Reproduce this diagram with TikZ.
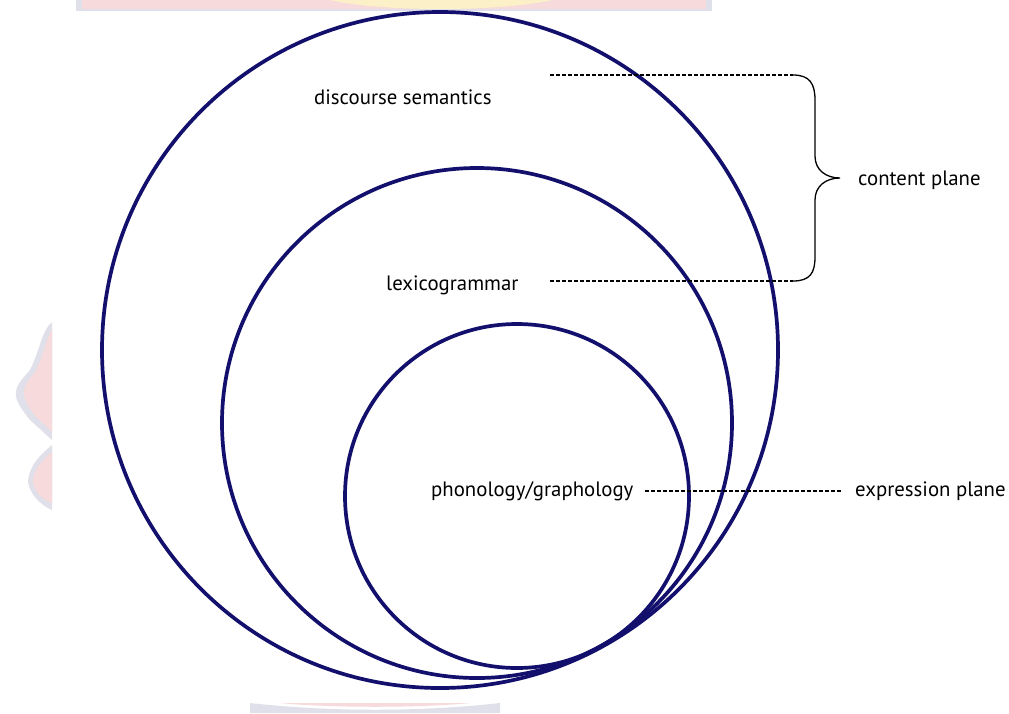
\documentclass[tikz,border=0pt]{standalone}
\usepackage{fontspec}
\setmainfont{PT Sans}
\definecolor{navy}{RGB}{18,16,108}
\definecolor{wmpink}{RGB}{246,218,220}
\definecolor{wmgray}{RGB}{224,224,234}
\definecolor{wmyellow}{RGB}{252,240,200}
\begin{document}
\begin{tikzpicture}[x=1pt,y=-1pt,
  ring/.style={draw=navy,line width=3.7pt},
  lbl/.style={font=\fontsize{20.8}{24}\selectfont,inner sep=0pt,anchor=west,text=black},
  dashln/.style={draw=black,line width=1.2pt,dash pattern=on 4pt off 2pt},
  bracep/.style={draw=black,line width=1.3pt}]
\useasboundingbox (0,0) rectangle (1009,713);
\fill[white] (0,0) rectangle (1009,713);
% faint watermark remnants
\fill[wmgray] (76,0) rectangle (712,11);
\fill[wmpink] (82,0) rectangle (706,9);
\fill[wmyellow] (330,0) .. controls (380,12) and (500,12) .. (552,0) -- cycle;
\fill[wmgray] (52,322) .. controls (42,330) and (40,350) .. (30,370) .. controls (12,390) and (10,395) .. (30,420) -- (52,440) -- cycle;
\fill[wmpink] (52,330) .. controls (46,338) and (44,355) .. (35,372) .. controls (20,390) and (20,395) .. (35,416) -- (52,432) -- cycle;
\fill[wmgray] (52,445) .. controls (40,455) and (30,465) .. (28,480) .. controls (28,492) and (40,505) .. (52,510) -- cycle;
\fill[wmpink] (52,452) .. controls (42,460) and (34,470) .. (33,480) .. controls (33,490) and (42,500) .. (52,503) -- cycle;
\fill[wmgray] (250,703) .. controls (330,712) and (420,712) .. (500,703) -- (500,713) -- (250,713) -- cycle;
\fill[wmpink] (280,703) .. controls (330,708) and (420,708) .. (470,703) -- cycle;
% rings
\coordinate (cO) at (440,350);
\coordinate (cM) at (477,423);
\coordinate (cI) at (517,496);
\draw[ring] (cO) circle (338);
\draw[ring] (cM) circle (255);
\draw[ring] (cI) circle (172);
% labels
\node[lbl] (ds) at (314,97) {discourse semantics};
\node[lbl] (lg) at (386,285) {lexicogrammar};
\node[lbl] (pg) at (431,491) {phonology/graphology};
\node[lbl] (cp) at (858,180) {content plane};
\node[lbl] (ep) at (855,491) {expression plane};
% content plane brace
\coordinate (t0) at (550,75);
\coordinate (t1) at (793,75);
\coordinate (b0) at (550,281);
\coordinate (b1) at (793,281);
\coordinate (tip) at (840,178);
\draw[dashln] (t0) -- (t1);
\draw[dashln] (b0) -- (b1);
\draw[bracep] (t1) .. controls (810,75) and (815,84) .. (815,100) -- (815,156)
  .. controls (815,170) and (826,178) .. (tip)
  .. controls (826,178) and (815,186) .. (815,200) -- (815,257)
  .. controls (815,273) and (810,281) .. (b1);
% expression plane
\coordinate (e0) at (645,491);
\coordinate (e1) at (841,491);
\draw[dashln] (e0) -- (e1);
\end{tikzpicture}
\end{document}
